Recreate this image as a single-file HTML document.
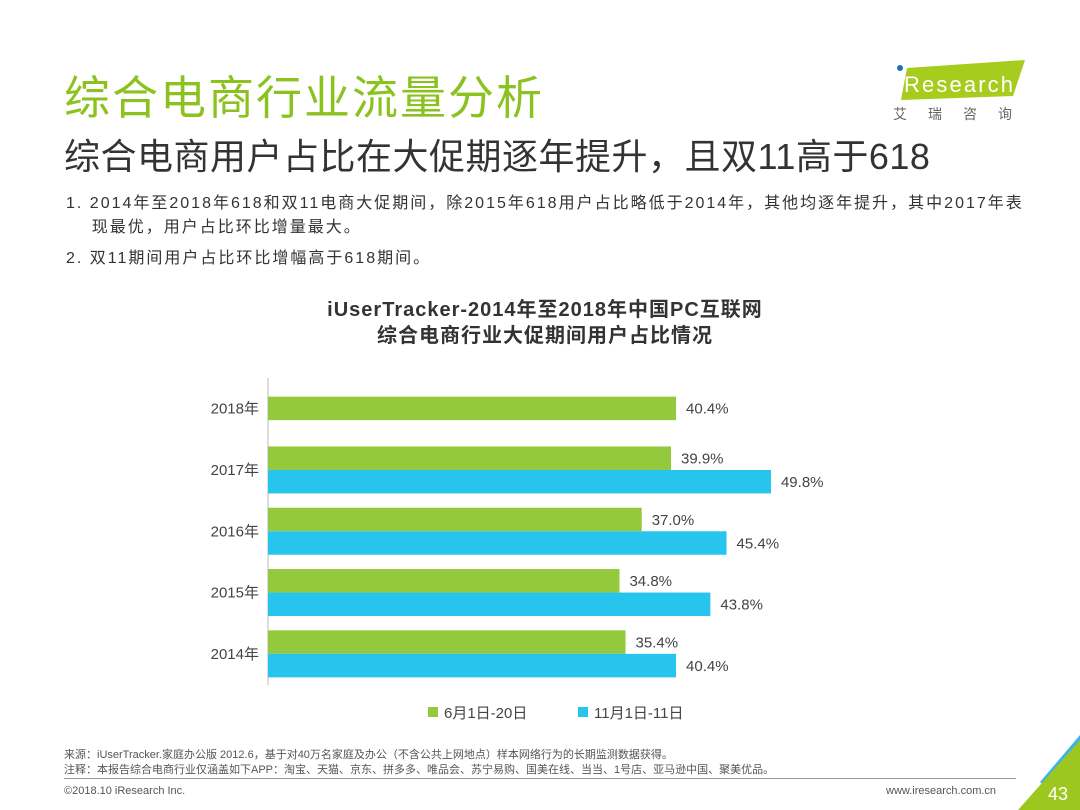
<!DOCTYPE html>
<html><head><meta charset="utf-8">
<style>
body{margin:0;width:1080px;height:810px;overflow:hidden;background:#fff;font-family:"Liberation Sans","Noto Sans CJK SC",sans-serif;position:relative}
.a{position:absolute;white-space:nowrap}
</style></head><body>
<div class="a" style="left:64px;top:62px;font-size:46px;letter-spacing:2px;color:#8cc21f">综合电商行业流量分析</div>
<div class="a" style="left:64px;top:128px;font-size:36px;letter-spacing:0.5px;color:#333">综合电商用户占比在大促期逐年提升，且双11高于618</div>
<div class="a" style="left:66px;top:192px;font-size:16px;letter-spacing:2px;color:#333;line-height:24px">1.&nbsp;2014年至2018年618和双11电商大促期间，除2015年618用户占比略低于2014年，其他均逐年提升，其中2017年表<br>&nbsp;&nbsp;&nbsp;&nbsp;现最优，用户占比环比增量最大。</div>
<div class="a" style="left:66px;top:244px;font-size:16px;letter-spacing:2px;color:#333">2.&nbsp;双11期间用户占比环比增幅高于618期间。</div>
<svg class="a" style="left:893px;top:56px" width="140" height="45">
<polygon points="14,12 132,4 120,40 8,44" fill="#a6cc1e"/>
<circle cx="7" cy="12" r="3" fill="#1d6fb8"/>
<text x="4" y="36" font-size="22" textLength="116" fill="#fff" font-family="Liberation Sans">iResearch</text>
</svg>
<div class="a" style="left:893px;top:104px;font-size:14px;color:#666;letter-spacing:21px">艾瑞咨询</div>
<div class="a" style="left:0;width:1090px;top:297px;text-align:center;font-size:20px;letter-spacing:1px;font-weight:bold;color:#333;line-height:26px">iUserTracker-2014年至2018年中国PC互联网<br>综合电商行业大促期间用户占比情况</div>
<svg id="chart" class="a" style="left:0;top:0" width="1080" height="810"></svg>
<div class="a" style="left:64px;top:748px;font-size:11px;color:#555;line-height:15px">来源：iUserTracker.家庭办公版 2012.6，基于对40万名家庭及办公（不含公共上网地点）样本网络行为的长期监测数据获得。<br>注释：本报告综合电商行业仅涵盖如下APP：淘宝、天猫、京东、拼多多、唯品会、苏宁易购、国美在线、当当、1号店、亚马逊中国、聚美优品。</div>
<div class="a" style="left:64px;top:778px;width:952px;height:1px;background:#999"></div>
<div class="a" style="left:64px;top:785px;font-size:11px;color:#555">©2018.10 iResearch Inc.</div>
<div class="a" style="left:886px;top:785px;font-size:11px;color:#555">www.iresearch.com.cn</div>
<svg class="a" style="left:1010px;top:730px" width="70" height="80">
<polygon points="30,52 70,5 70,20 38,60" fill="#3bb5e8"/>
<polygon points="8,80 70,10 70,80" fill="#9bc71e"/>
<text x="38" y="70" font-size="18" fill="#fff" font-family="Liberation Sans">43</text>
</svg>
<script>
const categories=["2018年","2017年","2016年","2015年","2014年"];
const june=[40.4,39.9,37.0,34.8,35.4];
const nov=[null,49.8,45.4,43.8,40.4];
const legendLabels=["6月1日-20日","11月1日-11日"];
const NS="http://www.w3.org/2000/svg";
const svg=document.getElementById('chart');
const x0=268,k=10.1,top0=378,step=61.3;
const xs=v=>x0+v*k;
function el(t,a){const e=document.createElementNS(NS,t);for(const n in a)e.setAttribute(n,a[n]);svg.appendChild(e);return e;}
const ax=el('line',{x1:x0,y1:top0,x2:x0,y2:685,stroke:'#bbb'});


const cols=['#94c83d','#27c5ee'];
categories.forEach((c,i)=>{
  const cy=top0+step*(i+0.5);
  const t=el('text',{x:259,y:cy+5,'text-anchor':'end','font-size':15,fill:'#444'});t.textContent=c;
  
  
  [june,nov].forEach((s,j)=>{
    const v=s[i];if(v==null)return;
    const y=(nov[i]==null)?cy-12:cy-23.5+j*23.5;
    const r=el('rect',{x:x0,y:y,width:xs(v)-x0,height:23.5,fill:cols[j]});
    
    
    const l=el('text',{x:xs(v)+10,y:y+17,'font-size':15,fill:'#444'});l.textContent=v.toFixed(1)+'%';
    
    
  });
});
legendLabels.forEach((s,j)=>{
  const lx=[428,578][j];
  const r=el('rect',{x:lx,y:707,width:10,height:10,fill:cols[j]});
  
  
  const t=el('text',{x:lx+16,y:718,'font-size':15,fill:'#444'});t.textContent=s;
  
  
});
</script>
</body></html>
